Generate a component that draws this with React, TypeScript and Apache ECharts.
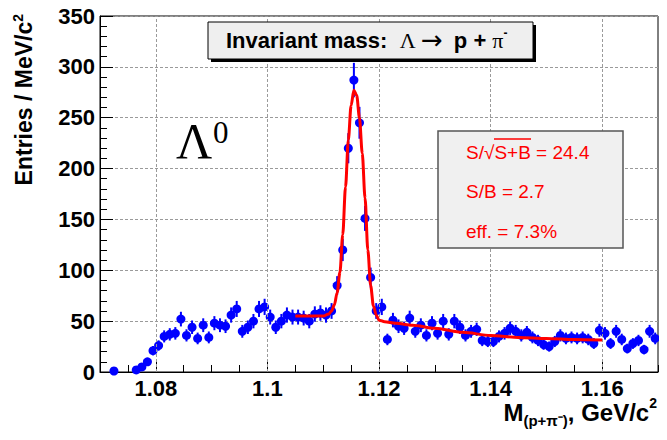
import React, { useEffect, useRef } from "react";
import * as echarts from "echarts";

// Histogram: 1 MeV bins from 1.070 to 1.170 GeV/c^2 (bin centres 1.0705 + k*0.001)
const BIN_START = 1.07;
const BIN_WIDTH = 0.001;
const counts = [
  0, 0, 1, 0, 0, 0, 2, 5, 10, 21,
  26, 35, 37, 38, 52, 36, 44, 33, 46, 34,
  48, 46, 45, 56, 62, 40, 44, 50, 62, 64,
  54, 44, 50, 56, 54, 54, 53, 50, 57, 58,
  56, 60, 85, 120, 220, 287, 245, 151, 93, 60,
  64, 32, 51, 45, 43, 53, 40, 46, 36, 48,
  38, 50, 37, 50, 44, 36, 40, 42, 31, 30,
  30, 35, 38, 43, 40, 36, 39, 34, 31, 27,
  25, 30, 36, 33, 34, 33, 34, 32, 28, 41,
  38, 28, 40, 32, 23, 28, 31, 22, 40, 33,
];

// Fit curve
const fitMass = [
  1.105, 1.108, 1.11, 1.111, 1.1115, 1.112, 1.1125, 1.113, 1.1135, 1.114,
  1.1145, 1.115, 1.1155, 1.116, 1.1165, 1.117, 1.1175, 1.118, 1.1185, 1.119,
  1.1195, 1.12, 1.121, 1.123, 1.126, 1.13, 1.135, 1.14, 1.145, 1.15, 1.155, 1.16,
];
const fitValue = [
  55, 55, 55, 57, 60, 66, 78, 98, 135, 182,
  228, 262, 277, 272, 250, 215, 171, 120, 85, 65,
  56, 51, 49.5, 48, 46, 43, 39, 36, 34, 33, 32, 31.5,
];

const xMajorTicks = [1.08, 1.1, 1.12, 1.14, 1.16];
const statLines = ["S/√S+B = 24.4", "S/B = 2.7", "eff. = 7.3%"];

const SANS = "'Liberation Sans', Arial, Helvetica, sans-serif";
const SERIF = "'Liberation Serif', 'Times New Roman', serif";

export default function App() {
  const ref = useRef<HTMLDivElement>(null);
  useEffect(() => {
    if (!ref.current) return;
    const chart = echarts.init(ref.current, null, { renderer: "svg" });
    const points = counts
      .map((c, k) => [BIN_START + BIN_WIDTH * (k + 0.5), c])
      .filter((p) => p[1] > 0);
    const fitData = fitMass.map((m, i) => [m, fitValue[i]]);
    const gridLine = { color: "#9a9a9a", type: [3, 2] as number[], width: 1 };

    const option: any = {
      animation: false,
      backgroundColor: "#ffffff",
      grid: { left: 100, right: 9, top: 16, bottom: 68, show: true, borderColor: "#000", borderWidth: 1 },
      xAxis: [
        {
          type: "value", min: 1.07, max: 1.17, interval: 0.005,
          axisLine: { show: true, onZero: false, lineStyle: { color: "#000", width: 1 } },
          axisTick: { show: true, inside: true, length: 7, lineStyle: { color: "#000" } },
          axisLabel: { show: false },
          splitLine: { show: false },
        },
        {
          type: "value", min: 1.07, max: 1.17, position: "bottom",
          axisLine: { show: false, onZero: false },
          axisTick: { show: true, inside: true, length: 13, customValues: xMajorTicks, lineStyle: { color: "#000" } },
          axisLabel: {
            show: true, customValues: xMajorTicks,
            formatter: (v: number) => String(parseFloat(v.toFixed(3))),
            fontSize: 22, fontWeight: "bold", fontFamily: SANS, color: "#000", margin: 5,
          },
          splitLine: { show: false },
        },
      ],
      yAxis: {
        type: "value", min: 0, max: 350, interval: 50,
        axisLine: { show: true, onZero: false, lineStyle: { color: "#000", width: 1 } },
        axisTick: { show: true, inside: true, length: 13, lineStyle: { color: "#000" } },
        minorTick: { show: true, splitNumber: 5, length: 7, lineStyle: { color: "#000" } },
        axisLabel: { fontSize: 22, fontWeight: "bold", fontFamily: SANS, color: "#000", margin: 5 },
        splitLine: { show: true, lineStyle: gridLine },
      },
      series: [
        {
          type: "line", xAxisIndex: 0, data: [[1.07, 0]], showSymbol: false,
          lineStyle: { opacity: 0 }, silent: true, z: 1,
          markLine: {
            silent: true, symbol: ["none", "none"], label: { show: false },
            lineStyle: gridLine, animation: false,
            data: xMajorTicks.map((v) => ({ xAxis: v })),
          },
        },
        {
          type: "custom", xAxisIndex: 0, data: points, z: 3,
          renderItem: (params: any, api: any) => {
            const x = api.value(0);
            const y = api.value(1);
            const err = Math.sqrt(y);
            const c = api.coord([x, y]);
            const t = api.coord([x, y + err]);
            const b = api.coord([x, y - err]);
            const l = api.coord([x - BIN_WIDTH / 2, y]);
            const r = api.coord([x + BIN_WIDTH / 2, y]);
            const st = { stroke: "#0000ff", lineWidth: 2 };
            return {
              type: "group",
              children: [
                { type: "line", shape: { x1: c[0], y1: t[1], x2: c[0], y2: b[1] }, style: st },
                { type: "line", shape: { x1: l[0] - 1, y1: c[1], x2: r[0] + 1, y2: c[1] }, style: st },
                { type: "circle", shape: { cx: c[0], cy: c[1], r: 4.5 }, style: { fill: "#0000ff" } },
              ],
            };
          },
        },
        {
          type: "line", xAxisIndex: 0, data: fitData, showSymbol: false, smooth: 0.3,
          smoothMonotone: "x", lineStyle: { color: "#ff0000", width: 3 }, z: 5,
        },
      ],
      graphic: [
        { type: "rect", z: 100, shape: { x: 473, y: 0, width: 194, height: 3 }, style: { fill: "#000" } },
        // title box
        { type: "rect", z: 100, shape: { x: 211, y: 25, width: 325, height: 37 }, style: { fill: "#000" } },
        { type: "rect", z: 101, shape: { x: 208, y: 22, width: 325, height: 37 }, style: { fill: "#efefef", stroke: "#000", lineWidth: 1 } },
        {
          type: "text", z: 102, x: 226, y: 40,
          style: {
            text: "{b|Invariant mass:  }{s|Λ }{ar|→}{s|  }{b|p + }{s|π}{m|-}",
            verticalAlign: "middle", align: "left",
            rich: {
              b: { fontSize: 22, fontWeight: "bold", fontFamily: SANS, fill: "#000", lineHeight: 26, verticalAlign: "middle" },
              s: { fontSize: 22, fontFamily: SERIF, fill: "#000", lineHeight: 26, verticalAlign: "middle" },
              ar: { fontSize: 26, fontFamily: "'DejaVu Sans', sans-serif", fill: "#000", lineHeight: 26, verticalAlign: "middle" },
              m: { fontSize: 12, fontWeight: "bold", fontFamily: SANS, fill: "#000", lineHeight: 14, verticalAlign: "top" },
            },
          },
        },
        // stats box
        { type: "rect", z: 100, shape: { x: 438, y: 131, width: 185, height: 117 }, style: { fill: "#f0f0f0", stroke: "#555", lineWidth: 1.5 } },
        ...statLines.map((t, i) => ({
          type: "text", z: 101, x: 466, y: [152, 191, 231][i],
          style: { text: t, fontSize: 19, fontFamily: SANS, fill: "#ff0000", verticalAlign: "middle", align: "left" },
        })),
        { type: "line", z: 101, shape: { x1: 494, y1: 139, x2: 531, y2: 139 }, style: { stroke: "#ff0000", lineWidth: 1.3 } },
        // Lambda^0
        { type: "text", z: 100, x: 176, y: 141, style: { text: "Λ", fontSize: 50, fontFamily: SERIF, fill: "#000", verticalAlign: "middle", align: "left" } },
        { type: "text", z: 100, x: 213, y: 132, style: { text: "0", fontSize: 31, fontFamily: SERIF, fill: "#000", verticalAlign: "middle", align: "left" } },
        // y title
        {
          type: "text", z: 100, x: 24, y: 14, rotation: Math.PI / 2,
          style: {
            text: "{a|Entries / MeV/c}{s|2}", align: "right", verticalAlign: "middle",
            rich: {
              a: { fontSize: 23, fontWeight: "bold", fontFamily: SANS, fill: "#000", lineHeight: 27, verticalAlign: "middle" },
              s: { fontSize: 14, fontWeight: "bold", fontFamily: SANS, fill: "#000", lineHeight: 15, verticalAlign: "top" },
            },
          },
        },
        // x title
        {
          type: "text", z: 100, x: 657, y: 412,
          style: {
            text: "{a|M}{sub|(p+π⁻)}{a|, GeV/c}{sup|2}", align: "right", verticalAlign: "middle",
            rich: {
              a: { fontSize: 24, fontWeight: "bold", fontFamily: SANS, fill: "#000", lineHeight: 32, verticalAlign: "middle" },
              sub: { fontSize: 15, fontWeight: "bold", fontFamily: SANS, fill: "#000", lineHeight: 16, verticalAlign: "bottom" },
              sup: { fontSize: 14, fontWeight: "bold", fontFamily: SANS, fill: "#000", lineHeight: 15, verticalAlign: "top" },
            },
          },
        },
      ],
    };
    chart.setOption(option);
    return () => chart.dispose();
  }, []);
  return <div ref={ref} style={{ width: 667, height: 440, margin: -8 }} />;
}
